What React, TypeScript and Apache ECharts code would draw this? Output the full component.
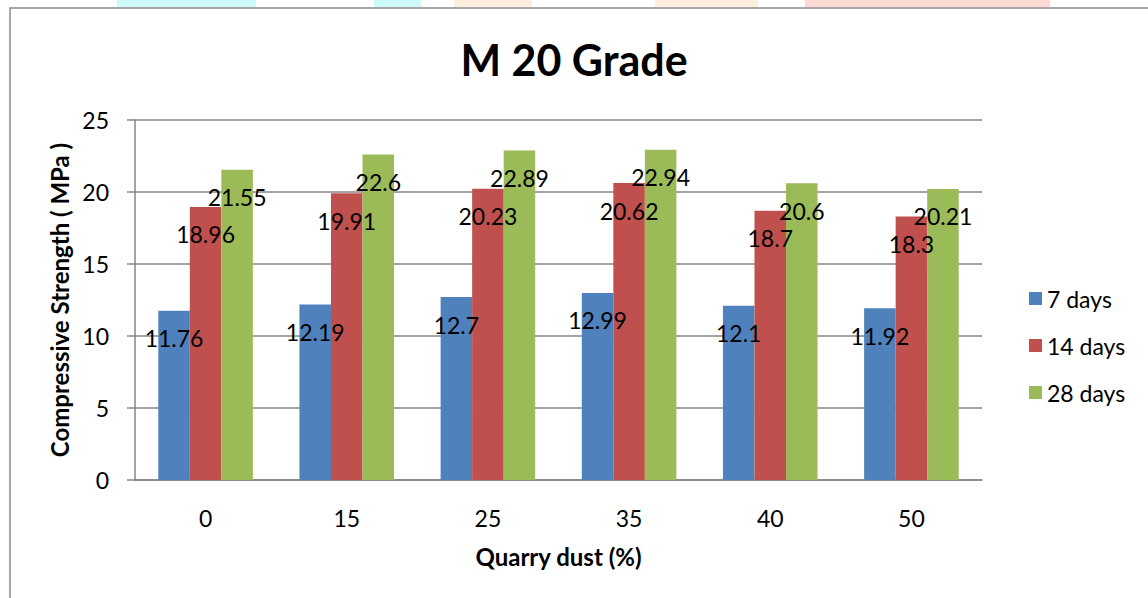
import React, { useEffect, useRef } from "react";
import * as echarts from "echarts";

const categories = ["0", "15", "25", "35", "40", "50"];
const days7 = [11.76, 12.19, 12.7, 12.99, 12.1, 11.92];
const days14 = [18.96, 19.91, 20.23, 20.62, 18.7, 18.3];
const days28 = [21.55, 22.6, 22.89, 22.94, 20.6, 20.21];
const seriesNames = ["7 days", "14 days", "28 days"];
const colors = ["#4F81BD", "#C0504D", "#9BBB59"];

const FONT = "Lato, 'Open Sans', sans-serif";

export default function App() {
  const ref = useRef<HTMLDivElement>(null);
  useEffect(() => {
    if (!ref.current) return;
    const chart = echarts.init(ref.current, null, { renderer: "svg" });
    const label = {
      show: true,
      position: "insideTop",
      distance: 0,
      offset: [0, 16],
      color: "#000",
      fontSize: 23,
      fontFamily: FONT,
    };
    const data = [days7, days14, days28];
    chart.setOption({
      animation: false,
      backgroundColor: "#fff",
      textStyle: { fontFamily: FONT },
      title: {
        text: "M 20 Grade",
        left: "center",
        top: 33,
        textStyle: { fontSize: 43, fontWeight: "bold", color: "#000", fontFamily: FONT },
      },
      legend: {
        orient: "vertical",
        left: 1024,
        top: 282,
        itemWidth: 13,
        itemHeight: 13,
        itemGap: 24,
        icon: "rect",
        textStyle: { fontSize: 23, color: "#000", fontFamily: FONT },
        data: seriesNames,
      },
      grid: { left: 135, right: 166, top: 120, bottom: 118 },
      xAxis: {
        type: "category",
        data: categories,
        name: "Quarry dust (%)",
        nameLocation: "middle",
        nameGap: 64,
        nameTextStyle: { fontSize: 24, fontWeight: "bold", color: "#000", fontFamily: FONT },
        axisTick: { show: false },
        axisLine: { lineStyle: { color: "#868686", width: 1.5 } },
        axisLabel: { fontSize: 23, color: "#000", margin: 26, fontFamily: FONT },
      },
      yAxis: {
        type: "value",
        min: 0,
        max: 25,
        interval: 5,
        name: "Compressive Strength ( MPa )",
        nameLocation: "middle",
        nameGap: 64,
        nameTextStyle: { fontSize: 24, fontWeight: "bold", color: "#000", fontFamily: FONT },
        axisLine: { show: true, lineStyle: { color: "#868686", width: 1.5 } },
        axisTick: { show: true, length: 8, lineStyle: { color: "#868686", width: 1.5 } },
        splitLine: { lineStyle: { color: "#868686", width: 1.5 } },
        axisLabel: { fontSize: 23, color: "#000", margin: 26, fontFamily: FONT },
      },
      series: seriesNames.map((name, i) => ({
        name,
        type: "bar",
        data: data[i],
        barGap: "0%",
        barCategoryGap: "33%",
        itemStyle: { color: colors[i] },
        label,
      })),
      graphic: [
        { type: "rect", shape: { x: 117, y: 0, width: 139, height: 7 }, style: { fill: "#cdfbfb" }, silent: true },
        { type: "rect", shape: { x: 374, y: 0, width: 47, height: 7 }, style: { fill: "#cdfbfb" }, silent: true },
        { type: "rect", shape: { x: 454, y: 0, width: 78, height: 7 }, style: { fill: "#fdeedd" }, silent: true },
        { type: "rect", shape: { x: 655, y: 0, width: 103, height: 7 }, style: { fill: "#fdeedd" }, silent: true },
        { type: "rect", shape: { x: 805, y: 0, width: 245, height: 7 }, style: { fill: "#fdd9d3" }, silent: true },
        {
          type: "rect",
          shape: { x: 10, y: 8, width: 1300, height: 800 },
          style: { fill: "none", stroke: "#8a8a8a", lineWidth: 1.5 },
          silent: true,
        },
      ],
    });
    return () => chart.dispose();
  }, []);
  return (
    <div
      ref={ref}
      style={{ position: "absolute", left: 0, top: 0, width: 1148, height: 598 }}
    />
  );
}
